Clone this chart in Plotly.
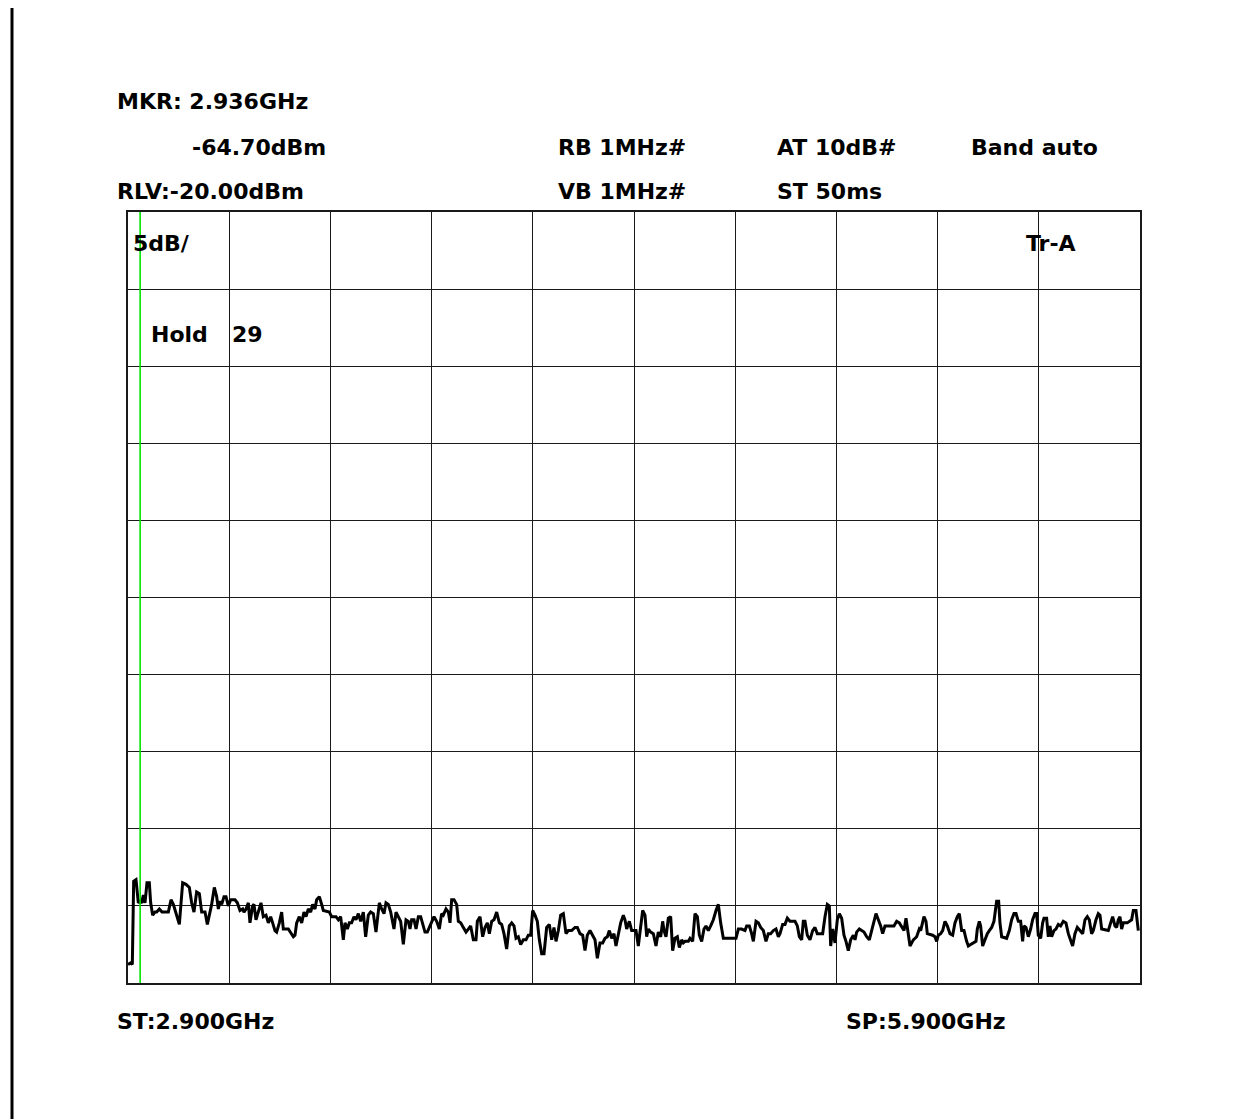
import plotly.graph_objects as go

# ---- data -------------------------------------------------------------
start_ghz = 2.900
stop_ghz = 5.900
ref_level = -20.0
db_per_div = 5.0
marker_ghz = 2.936
marker_dbm = -64.70

freq_ghz = [
    2.9000, 2.9079, 2.9128, 2.9168, 2.9237, 2.9306, 2.9356, 2.9405, 2.9455, 2.9504,
    2.9563, 2.9632, 2.9672, 2.9731, 2.9800, 2.9850, 2.9929, 3.0008, 3.0196, 3.0275,
    3.0344, 3.0443, 3.0522, 3.0620, 3.0719, 3.0818, 3.0887, 3.0956, 3.1035, 3.1115,
    3.1184, 3.1283, 3.1352, 3.1480, 3.1559, 3.1628, 3.1678, 3.1727, 3.1777, 3.1846,
    3.1905, 3.1974, 3.2043, 3.2172, 3.2241, 3.2320, 3.2399, 3.2438, 3.2498, 3.2567,
    3.2616, 3.2695, 3.2735, 3.2794, 3.2863, 3.2942, 3.3011, 3.3091, 3.3160, 3.3229,
    3.3288, 3.3357, 3.3407, 3.3486, 3.3555, 3.3604, 3.3753, 3.3822, 3.3901, 3.3950,
    3.4000, 3.4079, 3.4148, 3.4217, 3.4277, 3.4346, 3.4415, 3.4474, 3.4543, 3.4593,
    3.4672, 3.4741, 3.4790, 3.4968, 3.5037, 3.5087, 3.5166, 3.5235, 3.5304, 3.5383,
    3.5433, 3.5502, 3.5561, 3.5630, 3.5699, 3.5758, 3.5828, 3.5897, 3.5976, 3.6045,
    3.6124, 3.6193, 3.6272, 3.6351, 3.6451, 3.6520, 3.6589, 3.6648, 3.6717, 3.6787,
    3.6885, 3.6945, 3.7014, 3.7083, 3.7162, 3.7241, 3.7310, 3.7360, 3.7409, 3.7478,
    3.7538, 3.7607, 3.7676, 3.7735, 3.7804, 3.7874, 3.7953, 3.8012, 3.8071, 3.8150,
    3.8229, 3.8298, 3.8348, 3.8427, 3.8496, 3.8546, 3.8595, 3.8664, 3.8743, 3.8793,
    3.8862, 3.8941, 3.9020, 3.9089, 3.9158, 3.9237, 3.9316, 3.9356, 3.9435, 3.9514,
    3.9583, 3.9652, 3.9712, 3.9781, 3.9850, 3.9929, 4.0008, 4.0077, 4.0146, 4.0225,
    4.0304, 4.0374, 4.0443, 4.0502, 4.0571, 4.0640, 4.0719, 4.0798, 4.0867, 4.0937,
    4.0996, 4.1065, 4.1134, 4.1194, 4.1263, 4.1332, 4.1411, 4.1490, 4.1559, 4.1628,
    4.1688, 4.1757, 4.1826, 4.1905, 4.1984, 4.2053, 4.2152, 4.2251, 4.2320, 4.2399,
    4.2478, 4.2547, 4.2616, 4.2695, 4.2775, 4.2844, 4.2913, 4.2992, 4.3071, 4.3140,
    4.3210, 4.3269, 4.3338, 4.3407, 4.3466, 4.3536, 4.3605, 4.3684, 4.3733, 4.3783,
    4.3862, 4.3931, 4.4000, 4.4059, 4.4128, 4.4257, 4.4326, 4.4376, 4.4425, 4.4494,
    4.4573, 4.4652, 4.4721, 4.4791, 4.4850, 4.4889, 4.4949, 4.5018, 4.5087, 4.5146,
    4.5215, 4.5285, 4.5344, 4.5413, 4.5462, 4.5512, 4.5611, 4.5660, 4.5739, 4.5808,
    4.5878, 4.5937, 4.6006, 4.6075, 4.6134, 4.6204, 4.6273, 4.6352, 4.6431, 4.6500,
    4.6569, 4.6648, 4.7024, 4.7093, 4.7192, 4.7290, 4.7340, 4.7419, 4.7488, 4.7538,
    4.7617, 4.7686, 4.7755, 4.7834, 4.7913, 4.7982, 4.8051, 4.8130, 4.8209, 4.8279,
    4.8328, 4.8407, 4.8476, 4.8545, 4.8624, 4.8773, 4.8842, 4.8901, 4.8970, 4.9019,
    4.9069, 4.9138, 4.9217, 4.9296, 4.9365, 4.9434, 4.9514, 4.9593, 4.9662, 4.9731,
    4.9790, 4.9830, 4.9889, 4.9958, 5.0027, 5.0087, 5.0156, 5.0225, 5.0284, 5.0353,
    5.0423, 5.0502, 5.0551, 5.0600, 5.0680, 5.0818, 5.0897, 5.0976, 5.1045, 5.1095,
    5.1174, 5.1243, 5.1312, 5.1371, 5.1440, 5.1707, 5.1786, 5.1865, 5.1935, 5.2004,
    5.2063, 5.2132, 5.2182, 5.2281, 5.2379, 5.2458, 5.2498, 5.2596, 5.2656, 5.2695,
    5.2853, 5.2922, 5.2972, 5.3021, 5.3090, 5.3150, 5.3219, 5.3288, 5.3367, 5.3446,
    5.3515, 5.3584, 5.3644, 5.3713, 5.3782, 5.3861, 5.3911, 5.3980, 5.4138, 5.4177,
    5.4237, 5.4276, 5.4335, 5.4405, 5.4474, 5.4533, 5.4602, 5.4671, 5.4750, 5.4810,
    5.4849, 5.4899, 5.5047, 5.5126, 5.5195, 5.5264, 5.5324, 5.5393, 5.5462, 5.5521,
    5.5561, 5.5620, 5.5689, 5.5758, 5.5817, 5.5887, 5.5936, 5.5985, 5.6055, 5.6114,
    5.6153, 5.6232, 5.6282, 5.6331, 5.6381, 5.6450, 5.6509, 5.6578, 5.6647, 5.6726,
    5.6805, 5.6875, 5.6944, 5.7003, 5.7072, 5.7141, 5.7221, 5.7300, 5.7369, 5.7438,
    5.7497, 5.7566, 5.7616, 5.7695, 5.7764, 5.7814, 5.7863, 5.8061, 5.8130, 5.8189,
    5.8258, 5.8307, 5.8357, 5.8406, 5.8456, 5.8505, 5.8624, 5.8683, 5.8752, 5.8802,
    5.8881, 5.8950,
]

level_dbm = [
    -68.8, -68.7, -68.8, -63.4, -63.3, -64.8, -64.7, -64.8, -64.3, -64.8,
    -63.5, -63.5, -64.8, -65.6, -65.4, -65.4, -65.2, -65.4, -65.4, -64.6,
    -64.9, -65.7, -66.2, -63.5, -63.6, -63.8, -64.8, -65.4, -64.1, -64.2,
    -65.4, -65.4, -66.2, -64.9, -63.8, -64.4, -65.2, -64.7, -64.9, -64.4,
    -64.4, -65.0, -64.6, -64.6, -64.8, -65.3, -65.2, -65.4, -65.2, -64.8,
    -66.1, -65.0, -64.9, -65.9, -65.3, -64.8, -65.7, -65.6, -66.1, -65.7,
    -66.1, -66.6, -66.7, -66.1, -65.4, -66.5, -66.5, -66.7, -67.0, -66.9,
    -66.1, -65.7, -66.1, -65.4, -65.7, -65.2, -65.4, -64.9, -65.2, -64.6,
    -64.4, -64.9, -65.3, -65.4, -65.7, -65.7, -65.7, -65.9, -65.7, -67.2,
    -66.1, -66.5, -66.1, -66.1, -65.7, -65.9, -65.5, -66.0, -65.4, -67.0,
    -65.6, -65.4, -65.5, -66.7, -64.8, -65.2, -65.5, -64.8, -64.9, -65.4,
    -66.5, -65.4, -65.7, -66.0, -67.5, -65.9, -66.0, -66.5, -65.9, -65.9,
    -66.5, -65.7, -65.7, -66.1, -66.7, -66.7, -66.3, -66.1, -65.7, -66.0,
    -66.5, -65.5, -65.6, -65.2, -65.4, -66.1, -64.6, -64.6, -64.9, -66.0,
    -66.1, -66.4, -66.7, -66.5, -66.3, -67.2, -67.2, -66.0, -65.7, -67.0,
    -66.4, -66.1, -66.8, -66.0, -65.9, -65.4, -66.1, -66.2, -66.8, -67.8,
    -66.3, -66.1, -66.3, -67.1, -67.0, -67.5, -67.2, -67.2, -66.9, -66.9,
    -65.3, -65.6, -66.0, -67.2, -68.1, -68.1, -66.4, -66.2, -67.2, -66.4,
    -67.3, -66.6, -65.6, -65.5, -66.8, -66.6, -66.6, -66.4, -66.4, -66.8,
    -66.9, -67.9, -66.9, -66.6, -66.9, -67.2, -68.4, -67.4, -67.4, -67.1,
    -67.0, -66.6, -67.1, -66.8, -67.6, -66.8, -66.1, -65.6, -65.9, -66.5,
    -66.0, -66.6, -66.6, -66.6, -67.6, -65.3, -65.6, -67.0, -66.5, -66.7,
    -66.8, -67.6, -66.7, -67.0, -66.0, -66.6, -67.0, -65.8, -65.7, -67.9,
    -67.1, -67.0, -67.7, -67.2, -67.4, -67.3, -67.3, -67.1, -67.3, -65.5,
    -65.7, -66.9, -67.3, -66.5, -66.3, -66.6, -66.3, -65.9, -65.3, -64.9,
    -66.1, -67.1, -67.1, -66.5, -66.5, -66.6, -66.3, -66.3, -66.8, -67.3,
    -66.0, -66.1, -66.4, -66.6, -67.3, -66.8, -66.8, -66.6, -66.5, -67.0,
    -66.8, -66.2, -66.2, -65.8, -66.0, -66.0, -66.3, -67.0, -67.2, -66.0,
    -66.0, -66.9, -67.2, -66.6, -66.4, -66.8, -66.8, -66.8, -65.7, -64.9,
    -65.0, -67.6, -66.5, -67.4, -65.9, -65.5, -65.8, -66.9, -67.3, -67.9,
    -67.2, -66.9, -67.2, -66.7, -66.5, -66.7, -67.0, -67.2, -66.6, -66.1,
    -65.5, -65.9, -66.3, -66.8, -66.3, -66.3, -66.0, -66.1, -66.4, -66.6,
    -65.8, -66.7, -67.6, -67.2, -67.0, -66.5, -66.6, -65.7, -66.0, -66.8,
    -66.9, -67.0, -67.3, -66.9, -66.8, -66.6, -66.0, -66.3, -66.8, -66.9,
    -66.1, -65.7, -65.5, -66.6, -66.6, -67.3, -67.6, -67.5, -67.3, -66.5,
    -66.0, -66.3, -67.6, -67.2, -66.8, -66.6, -66.4, -66.0, -64.7, -64.7,
    -66.1, -67.0, -67.1, -66.6, -65.9, -65.5, -65.5, -66.0, -66.0, -67.3,
    -66.3, -66.4, -67.0, -66.5, -65.9, -65.5, -65.5, -66.9, -67.1, -66.1,
    -65.8, -65.8, -67.0, -66.3, -67.0, -66.6, -66.5, -66.2, -66.3, -66.0,
    -66.1, -66.8, -67.3, -67.6, -66.8, -66.4, -66.6, -66.8, -65.9, -65.7,
    -65.9, -66.8, -66.6, -65.9, -65.5, -65.6, -66.5, -66.6, -66.1, -65.7,
    -66.3, -66.4, -65.9, -65.7, -66.5, -66.1, -66.1, -66.0, -65.9, -65.3,
    -65.3, -66.6,
]

# ---- header texts -----------------------------------------------------
mkr_freq_text = "MKR: 2.936GHz"
mkr_level_text = "-64.70dBm"
rlv_text = "RLV:-20.00dBm"
rb_text = "RB 1MHz#"
vb_text = "VB 1MHz#"
at_text = "AT 10dB#"
st_time_text = "ST 50ms"
band_text = "Band auto"
scale_text = "5dB/"
trace_text = "Tr-A"
hold_text = "Hold"
hold_count_text = "29"
start_text = "ST:2.900GHz"
stop_text = "SP:5.900GHz"

# ---- figure (page body has an 8 px margin) ---------------------------
OFF = 8
W, H = 1253 - OFF, 1119 - OFF
L, T = 128 - OFF, 212 - OFF
R = W - (1140 - OFF)
B = H - (983 - OFF)
PW, PH = W - L - R, H - T - B


def px(xpage):
    return (xpage - OFF - L) / PW


def py(ypage):
    return (H - B - (ypage - OFF)) / PH


fig = go.Figure()
fig.add_trace(go.Scatter(
    x=freq_ghz, y=level_dbm, mode="lines",
    line=dict(color="black", width=3),
    hoverinfo="skip", showlegend=False,
))

bottom = ref_level - 10 * db_per_div
fig.add_shape(type="line", xref="x", yref="y",
              x0=marker_ghz, x1=marker_ghz, y0=bottom, y1=ref_level,
              line=dict(color="#00e600", width=1.6), layer="above")

# left border line of the page
fig.add_shape(type="line", xref="paper", yref="paper",
              x0=px(12), x1=px(12), y0=py(1119), y1=py(6),
              line=dict(color="black", width=3))

font = dict(family="DejaVu Sans", size=22, color="black", weight="bold")

texts = [
    (mkr_freq_text, 115, 101),
    (mkr_level_text, 190, 147),
    (rlv_text, 115, 191),
    (rb_text, 556, 147),
    (vb_text, 556, 191),
    (at_text, 775, 147),
    (st_time_text, 775, 191),
    (band_text, 969, 147),
    (scale_text, 131, 244),
    (trace_text, 1024, 244),
    (hold_text, 149, 334),
    (hold_count_text, 230, 334),
    (start_text, 115, 1021),
    (stop_text, 844, 1021),
]
for t, xp, yp in texts:
    fig.add_annotation(text=t, xref="paper", yref="paper", x=px(xp), y=py(yp),
                       xanchor="left", yanchor="middle", showarrow=False,
                       font=font)

axis_common = dict(
    showgrid=True, gridcolor="#1a1a1a", gridwidth=1,
    showticklabels=False, ticks="", zeroline=False,
    showline=True, mirror=True, linecolor="#1a1a1a", linewidth=1.5,
    fixedrange=True,
)
fig.update_xaxes(range=[start_ghz, stop_ghz], dtick=(stop_ghz - start_ghz) / 10,
                 tick0=start_ghz, **axis_common)
fig.update_yaxes(range=[bottom, ref_level], dtick=db_per_div, tick0=bottom,
                 **axis_common)

fig.update_layout(
    width=W, height=H, autosize=False,
    margin=dict(l=L, r=R, t=T, b=B, pad=0),
    paper_bgcolor="white", plot_bgcolor="white",
    showlegend=False,
)

fig.write_html("out.html")
